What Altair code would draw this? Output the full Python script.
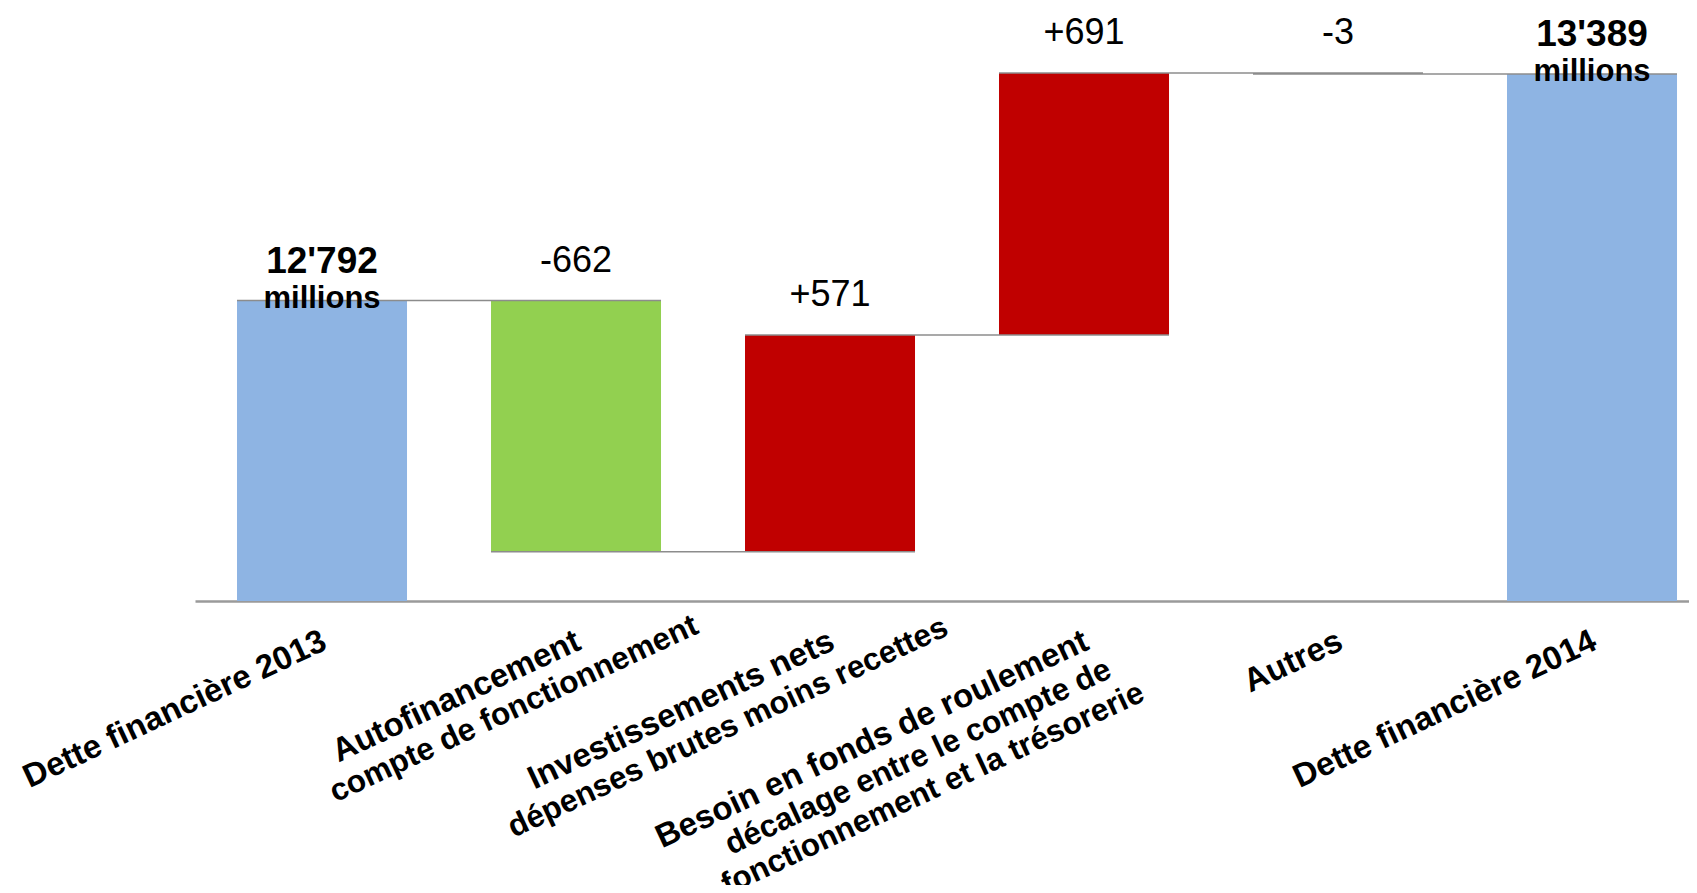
import altair as alt
import pandas as pd

# ---- data ----
cat_lines = [
    ["Dette financière 2013"],
    ["Autofinancement", "compte de fonctionnement"],
    ["Investissements nets", "dépenses brutes moins recettes"],
    ["Besoin en fonds de roulement", "décalage entre le compte de", "fonctionnement et la trésorerie"],
    ["Autres"],
    ["Dette financière 2014"],
]
values = [12792, -662, 571, 691, -3, 13389]
kinds = ["total", "decrease", "increase", "increase", "other", "total"]
value_labels = ["12'792", "-662", "+571", "+691", "-3", "13'389"]
unit_label = "millions"
axis_base = 12000
axis_top = 13500

# ---- tables built from the arrays ----
keys = [l[0] for l in cat_lines]
rows = []
running = None
for k, v, kind, lab in zip(keys, values, kinds, value_labels):
    if kind == "total":
        start, end = axis_base, v
    else:
        start, end = running, running + v
    running = end
    rows.append(dict(cat=k, start=start, end=end, top=max(start, end), label=lab, kind=kind))
bars = pd.DataFrame(rows)
conn = pd.DataFrame([dict(cat=keys[i], nxt=keys[i + 1], level=rows[i]["end"]) for i in range(len(keys) - 1)])
lines = pd.DataFrame([dict(cat=l[0], first=l[0], text=t, idx=j)
                      for l in cat_lines for j, t in enumerate(l)])

FONT = "Liberation Sans"

xscale = alt.Scale(domain=keys, paddingInner=0.3307, paddingOuter=0.1063, align=0.778)
yscale = alt.Scale(domain=[axis_base, axis_top], zero=False, nice=False)

x_main = alt.X("cat:N", scale=xscale, sort=keys,
               axis=alt.Axis(labels=False, ticks=False, title=None, grid=False,
                             domainColor="#9a9a9a", domainWidth=2.5))

bar_layer = alt.Chart(bars).mark_bar().encode(
    x=x_main,
    y=alt.Y("start:Q", scale=yscale, axis=None),
    y2="end:Q",
    color=alt.Color("kind:N",
                    scale=alt.Scale(domain=["total", "decrease", "increase", "other"],
                                    range=["#8EB4E3", "#92D050", "#C00000", "#8c8c8c"]),
                    legend=None),
)

conn_layer = alt.Chart(conn).mark_rule(color="#8c8c8c", strokeWidth=1.5).encode(
    x=alt.X("cat:N", bandPosition=0),
    x2=alt.X2("nxt", bandPosition=1),
    y="level:Q",
)

delta_labels = alt.Chart(bars).transform_filter("datum.kind != 'total'").mark_text(
    font=FONT, fontSize=36, baseline="alphabetic", dy=-29, color="black"
).encode(x="cat:N", y="top:Q", text="label:N")

total_labels = alt.Chart(bars).transform_filter("datum.kind == 'total'").mark_text(
    font=FONT, fontSize=37, fontWeight="bold", baseline="alphabetic", dy=-28, color="black"
).encode(x="cat:N", y="top:Q", text="label:N")

unit_labels = alt.Chart(bars).transform_filter("datum.kind == 'total'").mark_text(
    font=FONT, fontSize=31, fontWeight="bold", baseline="alphabetic", dy=7, color="black",
    text=unit_label
).encode(x="cat:N", y="top:Q")

first_lines = alt.Chart(lines).transform_filter("datum.idx == 0").mark_text(
    font=FONT, fontSize=33, fontWeight="bold", align="right", baseline="top",
    angle=335, dx=-14, dy=20, color="black"
).encode(x="cat:N", y=alt.datum(axis_base), text="text:N")

other_lines = alt.Chart(lines).transform_filter("datum.idx > 0").mark_text(
    font=FONT, fontSize=31.5, fontWeight="bold", align="center", baseline="top",
    angle=335, dx={"expr": "30 - length(datum.first) * 8.8"},
    dy={"expr": "21 + datum.idx * 35"}, color="black"
).encode(x="cat:N", y=alt.datum(axis_base), text="text:N")

chart = alt.layer(
    bar_layer, conn_layer, delta_labels, total_labels, unit_labels, first_lines, other_lines
).properties(
    width=1494, height=569,
    autosize=alt.AutoSizeParams(type="none"),
    padding={"left": 187, "top": 24, "right": 0, "bottom": 284},
).configure_view(stroke=None)

chart.save("out.html", embed_options={"renderer": "svg", "actions": False})
